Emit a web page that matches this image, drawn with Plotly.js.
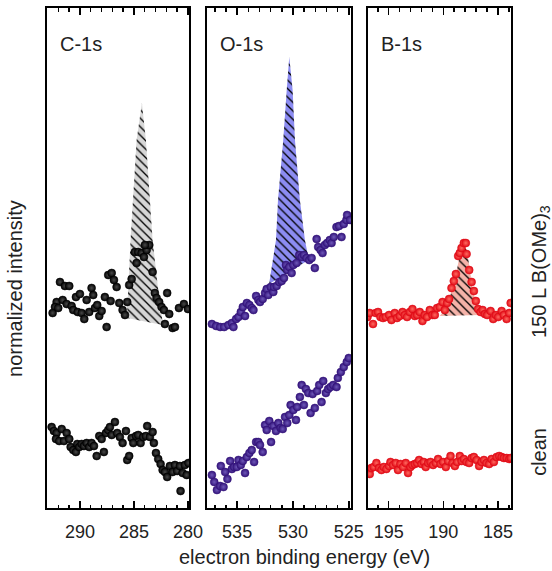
<!DOCTYPE html>
<html><head><meta charset="utf-8">
<script src="https://cdn.plot.ly/plotly-3.0.1.min.js"></script>
<style>html,body{margin:0;padding:0;background:#fff}#plot{width:552px;height:571px}</style>
</head><body><div id="plot"></div>
<script>
// ---- C-1s ----
const cUpE = [291.85,291.39,290.99,292.16,292.31,292.53,292.01,291.60,291.23,290.77,290.62,290.37,290.00,290.21,289.84,289.60,289.38,289.14,288.92,288.77,288.61,288.40,288.21,287.99,287.69,287.53,287.38,287.06,286.85,286.60,287.16,286.36,286.05,285.83,285.62,285.44,285.21,284.91,284.60,284.29,284.07,283.82,283.58,283.98,284.75,283.27,283.06,282.90,282.66,282.44,282.22,281.92,281.73,282.13,281.42,281.20,280.83,280.37,280.00];
const cUpI = [226,222,222,206,201,195,200,208,204,202,198,211,214,196,195,189,208,196,220,213,200,203,192,197,211,181,233,235,228,221,207,205,198,193,206,223,229,256,256,255,251,258,263,263,245,236,215,210,206,201,198,215,194,184,180,181,200,204,199];
const cLowE = [292.62,292.41,292.16,292.22,291.92,291.69,291.48,291.23,290.99,290.86,290.62,290.37,290.25,290.06,289.84,289.63,289.38,289.14,288.92,288.70,288.45,288.21,287.99,287.78,287.59,287.38,287.22,287.06,286.76,286.55,286.30,286.05,285.74,285.62,285.44,285.21,285.06,284.81,284.60,284.38,284.14,283.89,283.77,283.52,283.27,283.15,282.96,282.75,282.53,282.34,282.13,281.92,281.67,281.42,281.20,280.99,280.74,280.49,280.28,280.12,279.95,280.68];
const cLowI = [81,77,75,69,67,79,67,75,69,61,58,56,64,61,64,62,65,61,65,62,52,72,69,56,75,78,81,73,86,75,71,65,77,48,52,70,65,72,73,65,71,72,82,71,76,65,55,49,44,38,36,31,42,36,43,37,42,35,43,33,45,17];
const cPeakE = [285.65,285.31,284.75,284.26,283.89,283.27,282.78,282.31];
const cPeakI = [190,268,368,405,368,268,221,183];
const cBaseE = [285.65,282.31];
const cBaseI = [190,183];
// ---- O-1s ----
const oUpE = [537.26,536.88,536.52,536.16,535.78,535.47,535.33,535.09,534.88,534.67,534.49,534.29,534.13,533.90,533.69,533.54,533.30,533.10,532.95,532.71,532.50,532.35,532.21,531.99,531.76,531.70,531.46,531.22,531.01,530.80,530.63,530.51,530.33,530.12,529.97,529.67,529.44,529.22,529.02,528.78,528.54,528.33,528.04,527.88,527.74,527.53,527.35,527.14,526.94,526.70,526.54,526.34,526.10,525.87,525.65,525.45,525.21,525.15,524.88];
const oUpI = [184,182,181,181,183,185,181,189,191,196,201,192,205,203,200,198,212,208,206,209,215,219,213,221,216,221,222,226,227,230,243,238,241,235,243,245,253,251,253,250,248,250,240,269,261,258,255,263,265,268,265,271,281,282,271,284,288,293,288];
const oLowE = [537.26,537.05,536.81,536.52,536.22,536.46,536.07,535.87,535.63,535.47,535.27,535.03,534.88,534.67,534.49,534.29,534.13,533.90,533.69,533.48,533.30,533.10,532.95,532.71,532.50,532.35,532.12,531.96,531.76,531.52,531.31,531.10,530.92,530.71,530.51,530.33,530.21,529.97,529.73,529.62,529.38,529.22,529.02,528.84,528.63,528.42,528.24,528.04,527.83,527.65,527.44,527.29,527.05,526.85,526.63,526.40,526.10,525.98,525.71,525.45,525.18,525.00];
const oLowI = [33,26,18,22,21,42,36,29,47,39,41,41,48,43,47,35,51,55,58,46,66,66,63,56,83,78,87,66,82,77,85,80,79,91,85,93,103,98,88,101,111,123,103,119,115,95,114,100,117,123,106,127,115,119,121,123,121,130,136,141,146,150];
const oPeakE = [532.14,531.52,531.34,530.87,530.56,530.33,530.03,529.82,529.38,528.93,528.66,528.30];
const oPeakI = [224,268,308,368,418,451,418,368,308,268,253,250];
const oBaseE = [532.14,528.30];
const oBaseI = [224,250];
// ---- B-1s ----
const bUpE = [196.95,196.74,196.44,196.19,195.98,195.76,195.52,195.28,194.97,194.75,194.45,194.24,193.99,193.74,193.53,193.32,193.07,192.83,192.61,192.40,192.16,191.91,191.70,191.49,191.24,190.99,190.78,190.57,190.32,190.07,189.86,189.65,189.47,189.25,189.04,188.85,188.64,188.49,188.33,188.12,187.94,187.87,187.63,187.41,187.20,187.02,186.81,186.59,186.40,186.19,185.98,185.67,185.43,185.18,184.97,184.66,184.45,184.20,183.96,183.83];
const bUpI = [191,195,184,195,196,191,190,191,193,188,195,190,192,196,193,191,196,199,192,193,196,187,193,191,198,193,193,200,201,206,198,205,209,220,227,234,252,255,260,265,265,254,238,226,217,207,199,196,198,194,193,197,189,193,191,197,193,189,195,205];
const bLowE = [196.95,196.74,196.59,196.38,196.13,195.89,195.67,195.46,195.21,194.97,194.84,194.61,194.36,194.15,193.93,193.69,193.44,193.23,193.01,192.83,192.61,192.40,192.22,192.00,191.79,191.61,191.39,191.17,190.94,190.69,190.48,190.26,190.02,189.77,189.56,189.34,189.16,188.94,188.73,188.49,188.33,188.12,187.87,187.63,187.41,187.20,186.95,186.72,186.50,186.28,186.04,185.80,185.58,185.37,185.12,184.88,184.66,184.45,184.20,183.96,183.82];
const bLowI = [37,34,40,41,45,40,38,41,39,42,46,43,45,38,44,41,45,35,41,43,44,45,48,44,46,41,45,46,43,45,49,44,46,41,47,52,45,42,46,52,47,49,46,45,50,51,48,42,46,48,45,44,49,46,51,52,51,50,50,49,50];
const bPeakE = [190.32,189.59,189.22,188.85,188.49,188.21,187.84,187.57,187.29,187.02,186.65];
const bPeakI = [192,203,218,233,253,263,258,238,218,206,193];
const bBaseE = [190.32,186.65];
const bBaseI = [192,193];

const panelNames = ['C-1s','O-1s','B-1s'];
const xRanges = [[293.05,279.9],[537.7,524.8],[196.9,183.8]];
const tickVals = [[290,285,280],[535,530,525],[195,190,185]];

const FONT = 'Liberation Sans, Arial, sans-serif';

function peakTraces(bx, by, px, py, ax, fillCol) {
  return [
    {x: bx, y: by, xaxis: ax, yaxis: ax.replace('x','y'), mode: 'lines', line: {width: 0, color: 'rgba(0,0,0,0)'}, hoverinfo: 'skip', showlegend: false},
    {x: px, y: py, xaxis: ax, yaxis: ax.replace('x','y'), mode: 'lines', line: {width: 0, color: 'rgba(0,0,0,0)'}, fill: 'tonexty', fillcolor: fillCol,
     fillpattern: {shape: '\\', fgcolor: '#000', bgcolor: fillCol, size: 6, solidity: 0.22, fillmode: 'replace'}, hoverinfo: 'skip', showlegend: false}
  ];
}
function dots(x, y, ax, col, center) {
  return {x: x, y: y, xaxis: ax, yaxis: ax.replace('x','y'), mode: 'markers', showlegend: false,
    marker: {size: 8, color: col, line: {width: 0.5, color: col}, gradient: {type: 'radial', color: center}}};
}

const data = [
  ...peakTraces(cBaseE, cBaseI, cPeakE, cPeakI, 'x', '#d6d6d6'),
  ...peakTraces(oBaseE, oBaseI, oPeakE, oPeakI, 'x2', '#8c8cf2'),
  ...peakTraces(bBaseE, bBaseI, bPeakE, bPeakI, 'x3', '#f4b2a8'),
  dots(cUpE, cUpI, 'x', '#000000', '#4a4a4a'),
  dots(cLowE, cLowI, 'x', '#000000', '#4a4a4a'),
  dots(oUpE, oUpI, 'x2', '#33137a', '#6e58b8'),
  dots(oLowE, oLowI, 'x2', '#33137a', '#6e58b8'),
  dots(bUpE, bUpI, 'x3', '#e00a16', '#ff6a60'),
  dots(bLowE, bLowI, 'x3', '#e00a16', '#ff6a60')
];

const domains = [[0, 0.306], [0.3448, 0.6552], [0.6918, 1]];
const layout = {
  width: 552, height: 571,
  margin: {l: 47, r: 41, t: 8, b: 63},
  paper_bgcolor: '#fff', plot_bgcolor: '#fff',
  font: {family: FONT, color: '#222'},
  showlegend: false,
  annotations: []
};
for (let i = 0; i < 3; i++) {
  const sx = i === 0 ? '' : String(i + 1);
  layout['xaxis' + sx] = {
    domain: domains[i], range: xRanges[i], anchor: 'y' + sx,
    showgrid: false, zeroline: false,
    showline: true, linecolor: '#000', linewidth: 2, mirror: 'allticks',
    ticks: 'inside', ticklen: 7, tickwidth: 1.5, tickcolor: '#000',
    tickvals: tickVals[i], ticktext: tickVals[i].map(String),
    minor: {dtick: 1, tick0: 0, ticks: 'inside', ticklen: 3.5, tickwidth: 1.5, tickcolor: '#000', showgrid: false},
    tickfont: {size: 18, family: FONT, color: '#222'}, ticklabelstandoff: 6
  };
  layout['yaxis' + sx] = {
    domain: [0, 1], range: [0, 500], anchor: 'x' + sx,
    showgrid: false, zeroline: false, showticklabels: false, ticks: '',
    showline: true, linecolor: '#000', linewidth: 2, mirror: true
  };
  layout.annotations.push({
    text: panelNames[i], xref: 'x' + sx + ' domain', yref: 'paper',
    x: 0.075, y: 0.928, xanchor: 'left', yanchor: 'middle', showarrow: false,
    font: {size: 20, family: FONT, color: '#222'}
  });
}
layout.annotations.push(
  {text: 'electron binding energy (eV)', xref: 'paper', yref: 'paper', x: 0.554, y: -0.098,
   xanchor: 'center', yanchor: 'middle', showarrow: false, font: {size: 20, family: FONT, color: '#222'}},
  {text: 'normalized intensity', xref: 'paper', yref: 'paper', x: -0.069, y: 0.44, textangle: -90,
   xanchor: 'center', yanchor: 'middle', showarrow: false, font: {size: 20, family: FONT, color: '#222'}},
  {text: '150 L B(OMe)<sub>3</sub>', xref: 'paper', yref: 'paper', x: 1.0625, y: 0.472, textangle: -90,
   xanchor: 'center', yanchor: 'middle', showarrow: false, font: {size: 20, family: FONT, color: '#222'}},
  {text: 'clean', xref: 'paper', yref: 'paper', x: 1.06, y: 0.112, textangle: -90,
   xanchor: 'center', yanchor: 'middle', showarrow: false, font: {size: 20, family: FONT, color: '#222'}}
);

Plotly.newPlot('plot', data, layout, {displayModeBar: false, staticPlot: true});
</script>
</body></html>
